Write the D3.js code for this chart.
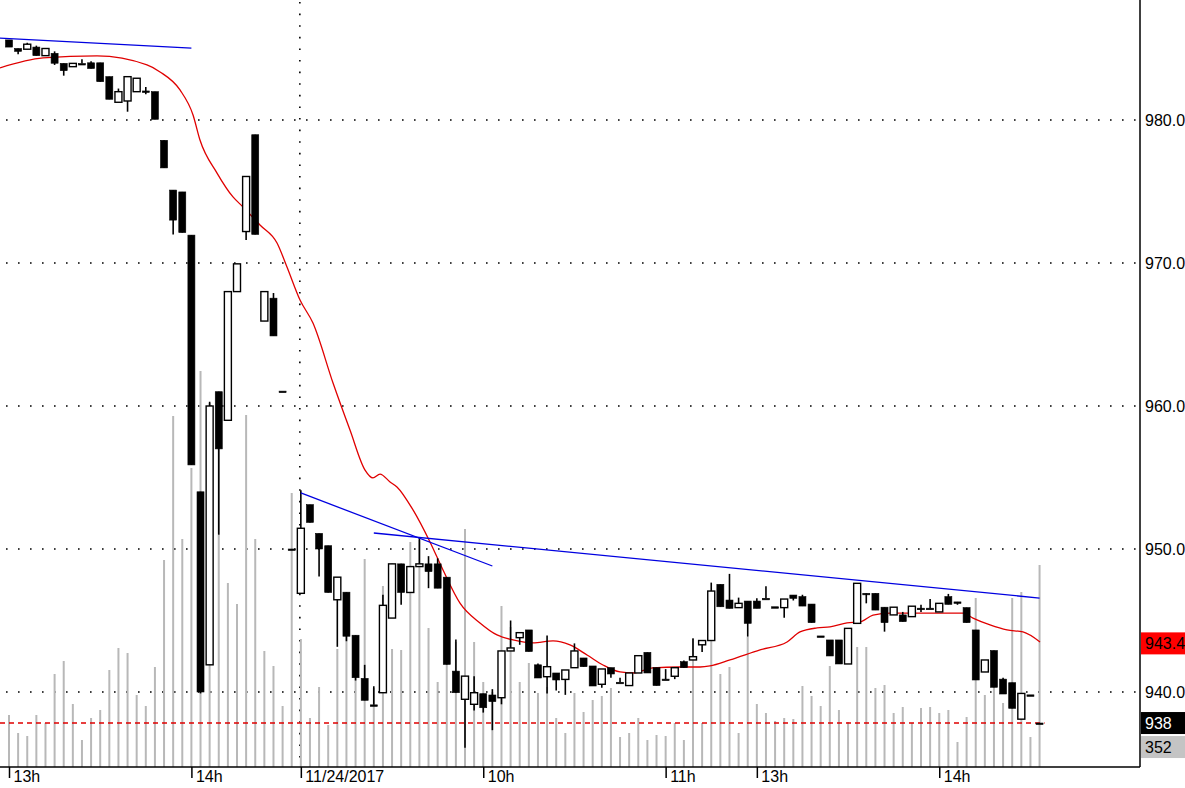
<!DOCTYPE html>
<html><head><meta charset="utf-8">
<script src="https://cdn.jsdelivr.net/npm/d3@7"></script>
<style>body{margin:0;background:#fff}svg{display:block}text{font-family:"Liberation Sans",Arial,sans-serif}</style>
</head><body><svg id="c" width="1185" height="788"></svg>
<script>
// candles: [open, high, low, close], one per 3-minute bar
const candles = [
[985.6,985.6,985.1,985.1],[985.0,985.0,984.6,984.8],[984.95,985.4,984.95,985.3],[985.1,985.2,984.5,984.5],
[984.5,985.0,984.5,985.0],[984.66,984.8,983.85,983.97],[983.96,983.96,983.1,983.45],[983.73,983.96,983.73,983.96],
[983.95,984.25,983.95,983.95],[984.0,984.1,983.6,983.6],[984.0,984.0,982.68,982.68],[983.03,983.03,981.45,981.45],
[981.24,982.2,981.24,981.98],[981.33,983.03,980.58,983.03],[981.98,982.92,981.98,982.92],[982.03,982.3,981.8,982.03],
[981.98,981.98,980.05,980.05],[978.58,978.58,976.65,976.65],[975.1,975.1,972.0,973.0],[974.97,974.97,972.13,972.13],
[971.95,971.95,955.88,955.88],[954.0,954.0,939.9,940.0],[941.9,960.3,941.9,960.0],[961.0,961.0,951.0,957.0],
[959.0,968.0,959.0,968.0],[968.0,969.94,968.0,969.94],[972.2,976.05,971.6,976.05],[978.97,978.97,972.0,972.0],
[965.94,968.0,965.94,968.0],[967.54,967.9,964.9,964.9],[961.04,961.04,961.04,961.04],[950,950,950,950],
[946.9,954.1,946.9,951.45],[953.1,953.1,951.86,951.86],[951.09,951.09,948.07,950.0],[950.23,950.23,946.96,946.96],
[946.45,948.03,943.16,948.03],[946.98,946.98,943.55,943.9],[943.97,943.97,940.8,941.0],[940.95,941.9,939.42,939.42],
[939.1,940.4,939.1,939.1],[939.95,946.8,939.95,946.06],[945.17,948.96,945.17,948.96],[948.96,948.96,946.1,946.96],
[946.96,948.77,946.96,948.77],[948.77,950.8,948.77,948.96],[948.96,949.5,947.26,948.42],[948.96,949.35,947.26,947.26],
[948.03,948.03,941.93,941.93],[941.46,943.67,939.95,939.95],[939.49,941.11,936.1,941.11],[939.14,941.1,938.7,939.95],
[939.88,939.88,938.56,938.9],[939.79,940.2,937.33,939.33],[939.6,942.87,939.14,942.87],[942.87,945.0,942.87,943.08],
[943.8,944.15,943.3,944.15],[944.34,944.34,942.83,942.83],[941.9,942.0,940.98,940.98],[941.07,943.95,939.9,941.77],
[941.33,941.33,940.1,940.84],[940.88,941.54,939.8,941.54],[941.7,943.4,941.7,942.87],[942.38,942.38,941.77,941.77],
[941.82,941.82,940.42,940.42],[940.54,941.61,940.3,941.61],[941.7,941.7,941.0,941.26],[940.68,941.0,940.68,940.68],
[940.45,941.33,940.45,941.33],[941.33,942.54,941.33,942.54],[942.77,942.77,941.33,941.33],[941.7,941.7,940.45,940.45],
[940.9,941.6,940.9,940.9],[941.1,941.7,940.9,941.7],[942.12,942.2,941.7,941.7],[942.24,943.75,942.24,942.47],
[943.3,943.6,942.8,943.6],[943.6,947.65,943.6,947.06],[947.53,947.53,945.96,945.96],[946.43,948.26,945.85,945.85],
[945.9,946.6,945.9,946.2],[946.36,946.36,943.87,944.8],[946.36,946.55,945.85,945.85],[946.55,947.4,946.55,946.55],
[945.96,945.96,945.96,945.96],[945.9,946.5,945.2,946.5],[946.78,946.78,946.4,946.55],[946.67,946.8,946.01,946.01],
[946.15,946.15,944.85,944.85],[943.92,943.92,943.92,943.92],[943.64,943.64,942.52,942.52],[943.64,943.64,941.96,941.96],
[941.96,944.45,941.96,944.45],[944.8,947.6,944.8,947.6],[946.9,946.9,946.2,946.9],[946.9,946.9,945.73,945.73],
[945.93,945.93,944.22,944.85],[945.39,945.93,945.39,945.93],[945.39,945.6,944.92,944.92],[945.27,946.0,945.27,946.0],
[945.86,946.1,945.6,945.86],[945.86,946.5,945.86,945.86],[945.6,946.2,945.6,946.2],[946.67,946.86,946.13,946.13],
[946.3,946.3,946.1,946.3],[945.9,945.9,944.85,944.85],[944.34,944.34,940.84,940.84],[941.4,942.24,941.4,942.24],
[942.9,942.9,940.33,940.33],[940.9,941.0,939.86,939.86],[940.65,940.65,938.86,938.86],[938.1,939.9,938.1,939.9],
[939.8,939.8,939.8,939.8],[937.83,937.83,937.83,937.83]
];
const volumes = [52,34,31,52,44,93,106,63,27,49,57,97,119,114,72,61,100,207,351,228,299,396,364,351,184,163,352,228,116,101,
61,274,128,49,80,42,118,151,90,208,79,181,118,117,225,227,139,85,147,125,238,125,85,75,161,140,85,104,74,80,
49,34,74,55,67,71,79,30,34,49,27,32,31,44,27,129,44,127,93,100,34,130,63,54,46,49,48,81,71,61,
101,57,45,120,120,79,82,54,60,44,59,60,54,57,25,50,169,72,84,64,169,175,30,202];
const maIdx = [-0.99,3.73,9.65,15.13,16.56,18.75,20.18,20.94,22.81,24.56,25.66,27.52,29.39,30.48,31.91,33.33,35.53,37.39,39.04,39.91,40.68,41.78,42.54,44.3,46.16,47.59,49.45,51.64,53.51,55.26,57.46,59.65,61.51,63.38,65.13,67.0,68.42,70.61,73.57,75.77,76.86,79.06,82.35,85.31,86.73,88.6,90.02,91.89,93.31,94.74,96.6,100.22,104.61,105.7,107.57,109.43,111.18,113.05];
const maVal = [983.64,984.34,984.48,983.85,983.36,982.10,980.35,978.60,976.29,974.62,973.92,972.66,971.40,969.72,967.41,965.80,961.61,958.32,955.52,954.97,955.24,954.69,954.34,952.73,950.49,948.53,946.22,944.83,943.99,943.64,943.43,943.57,943.29,942.59,941.89,941.40,941.33,941.68,941.75,941.75,941.82,942.24,942.94,943.50,944.20,944.48,944.55,944.83,944.90,945.38,945.52,945.52,945.52,945.17,944.69,944.34,944.20,943.50];
const trendLines = [[[-1,985.73],[20,985.03]],[[32,953.92],[53,948.81]],[[40,951.12],[113,946.57]]];
const priceTicks = [940,950,960,970,980];
const timeTickIdx = [0,20,32,52,72,82,102];
const timeTickLabels = ["13h","14h","11/24/2017","10h","11h","13h","14h"];
const lastPrice = 937.83, maLast = 943.4, lastLabel = "938", maLabel = "943.4", volLabel = "352";
const dayBreakIdx = 32;

const svg = d3.select("#c");
const W = 1140, B = 767;
const x = d3.scaleLinear().domain([0,113]).range([9, 9+9.12*113]);
const y = d3.scaleLinear().domain([940,980]).range([692,120]);
const yv = d3.scaleLinear().domain([0,500]).range([B, B-500]);

svg.append("g").selectAll("line").data(priceTicks).join("line")
 .attr("x1",6).attr("x2",W).attr("y1",d=>y(d)).attr("y2",d=>y(d))
 .attr("stroke","#000").attr("stroke-width",1.6).attr("stroke-dasharray","1.6,10.4");
svg.append("line").attr("x1",x(dayBreakIdx)-1).attr("x2",x(dayBreakIdx)-1).attr("y1",2).attr("y2",B)
 .attr("stroke","#000").attr("stroke-width",1.6).attr("stroke-dasharray","1.6,10");

svg.append("g").selectAll("line").data(volumes).join("line")
 .attr("x1",(d,i)=>x(i)).attr("x2",(d,i)=>x(i)).attr("y1",B).attr("y2",d=>yv(d))
 .attr("stroke","#b8b8b8").attr("stroke-width",2);

svg.append("line").attr("x1",0).attr("x2",x(113)+5).attr("y1",y(lastPrice)).attr("y2",y(lastPrice))
 .attr("stroke","#e00000").attr("stroke-width",1.5).attr("stroke-dasharray","5,4");

svg.append("path").datum(maIdx.map((d,i)=>[d,maVal[i]]))
 .attr("d",d3.line().x(d=>x(d[0])).y(d=>y(d[1])).curve(d3.curveMonotoneX))
 .attr("fill","none").attr("stroke","#e00000").attr("stroke-width",1.3);

const cg = svg.append("g").selectAll("g").data(candles).join("g");
cg.append("line").attr("x1",(d,i)=>x(i)).attr("x2",(d,i)=>x(i))
 .attr("y1",d=>y(d[1])).attr("y2",d=>y(d[2])).attr("stroke","#000").attr("stroke-width",1.6);
cg.append("rect").attr("x",(d,i)=>x(i)-3.5).attr("width",7)
 .attr("y",d=>y(Math.max(d[0],d[3])))
 .attr("height",d=>Math.max(1.5,Math.abs(y(d[0])-y(d[3]))))
 .attr("fill",d=>d[3]>d[0]?"#fff":"#000").attr("stroke","#000").attr("stroke-width",d=>d[3]>d[0]?1.4:0.6);

svg.append("g").selectAll("line").data(trendLines).join("line")
 .attr("x1",d=>x(d[0][0])).attr("y1",d=>y(d[0][1])).attr("x2",d=>x(d[1][0])).attr("y2",d=>y(d[1][1]))
 .attr("stroke","#0000e0").attr("stroke-width",1.3);

const xa = svg.append("g").attr("transform",`translate(0,${B})`)
 .call(d3.axisBottom(x).tickValues(timeTickIdx).tickFormat((d,i)=>timeTickLabels[i]).tickSize(11).tickSizeOuter(0));
xa.select(".domain").attr("d",`M0,0H${W}`).attr("stroke","#000").attr("stroke-width",1.5);
xa.selectAll(".tick line").attr("stroke-width",1.5);
xa.selectAll(".tick text").attr("text-anchor","start").attr("x",4).attr("y",4).attr("dy","0.71em")
 .attr("font-size",16).attr("fill","#000");

const ya = svg.append("g").attr("transform",`translate(${W},0)`)
 .call(d3.axisRight(y).tickValues(priceTicks).tickFormat(d=>d.toFixed(1)).tickSize(0).tickPadding(5));
ya.select(".domain").attr("d",`M0,0V${B}`).attr("stroke","#000").attr("stroke-width",1.5);
ya.selectAll(".tick text").attr("font-size",16).attr("fill","#000");

function tag(val, txt, bg, fg, dy){
  const yy = (val==null? dy : y(val));
  svg.append("rect").attr("x",W+1).attr("y",yy-11).attr("width",50).attr("height",22).attr("fill",bg);
  svg.append("text").attr("x",W+5).attr("y",yy).attr("dy","0.36em").attr("font-size",16).attr("fill",fg).text(txt);
}
tag(maLast, maLabel, "#ff0000", "#000");
tag(lastPrice, lastLabel, "#000", "#fff");
tag(null, volLabel, "#c4c4c4", "#000", y(lastPrice)+24);
</script></body></html>
